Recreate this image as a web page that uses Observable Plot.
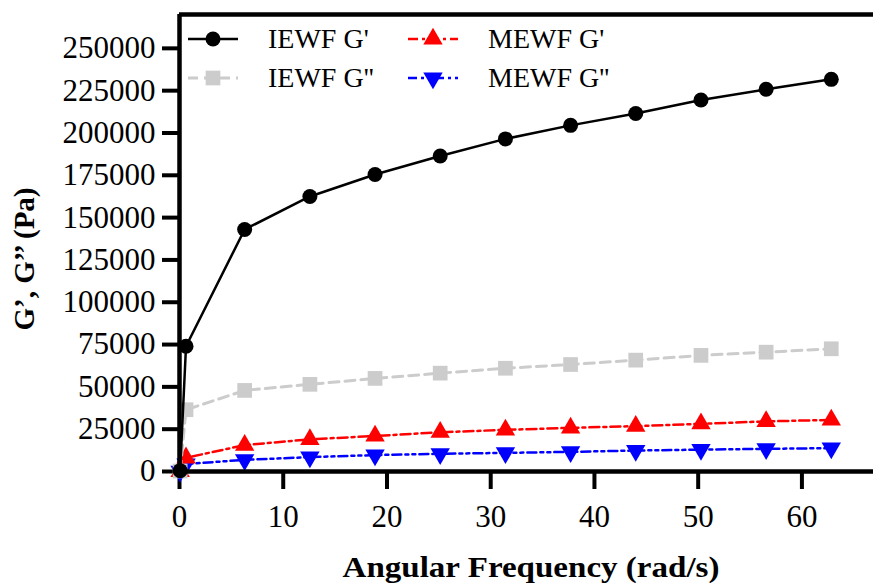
<!DOCTYPE html>
<html>
<head>
<meta charset="utf-8">
<script src="https://cdn.jsdelivr.net/npm/d3@7"></script>
<script src="https://cdn.jsdelivr.net/npm/@observablehq/plot@0.6"></script>
<style>
  html, body { margin: 0; padding: 0; background: #fff; }
  #wrap { position: relative; width: 873px; height: 583px; }
  #legend { position: absolute; left: 0; top: 0; }
  #wrap svg, #wrap svg text { font-family: "Liberation Serif", "Times New Roman", serif !important; }
</style>
</head>
<body>
<div id="wrap"></div>
<script>
const freq   = [0.0628, 0.628, 6.28, 12.57, 18.85, 25.13, 31.42, 37.70, 43.98, 50.27, 56.55, 62.83];
const iewfG1 = [500, 74000, 143000, 162500, 175500, 186400, 196500, 204500, 211500, 219500, 225800, 231700];
const iewfG2 = [300, 36500, 47900, 51500, 55000, 58100, 61000, 63200, 65800, 68600, 70500, 72500];
const mewfG1 = [100, 8100, 15600, 19000, 21000, 23200, 24600, 25800, 26800, 28200, 29600, 30500];
const mewfG2 = [50, 4400, 6900, 8500, 9700, 10500, 11000, 11600, 12400, 12900, 13400, 13800];
const yTicks = [0, 25000, 50000, 75000, 100000, 125000, 150000, 175000, 200000, 225000, 250000];
const xTicks = [0, 10, 20, 30, 40, 50, 60];

const seriesDefs = [
  {name: "IEWF G'",  values: iewfG1, color: "#000000", dash: null,           symbol: "circle",   r: 7.5, rotate: 0,   width: 2.5},
  {name: "IEWF G''", values: iewfG2, color: "#cccccc", dash: "10,6",         symbol: "square",   r: 8.3, rotate: 0,   width: 3},
  {name: "MEWF G'",  values: mewfG1, color: "#ff0000", dash: "10,4,3,4",     symbol: "triangle", r: 7.2, rotate: 0,   width: 2.5},
  {name: "MEWF G''", values: mewfG2, color: "#0000ff", dash: "9,4,3,4,3,4",  symbol: "triangle", r: 7.2, rotate: 180, width: 2.5}
];

const marks = [];
for (const s of [...seriesDefs].reverse()) {
  const data = freq.map((f, i) => ({x: f, y: s.values[i]}));
  marks.push(Plot.line(data, {x: "x", y: "y", stroke: s.color, strokeWidth: s.width, strokeDasharray: s.dash}));
  marks.push(Plot.dot(data, {x: "x", y: "y", symbol: s.symbol, r: s.r, fill: s.color, stroke: "none", rotate: s.rotate}));
}

const chart = Plot.plot({
  width: 873,
  height: 583,
  marginLeft: 179,
  marginRight: 0,
  marginTop: 14,
  marginBottom: 112,
  style: {background: "#fff", color: "#000"},
  x: {domain: [0, 66.9], ticks: xTicks},
  y: {domain: [0, 270000], ticks: yTicks},
  marks: [
    Plot.axisY({ticks: yTicks, tickSize: 17, tickPadding: 7, strokeWidth: 4, fontSize: 31, tickFormat: d => String(d), label: null}),
    Plot.axisX({ticks: xTicks, tickSize: 18, tickPadding: 15, strokeWidth: 4, fontSize: 31, tickFormat: d => String(d), label: null}),
    ...marks,
    Plot.ruleY([0], {stroke: "#000", strokeWidth: 4.5}),
    Plot.ruleY([270000], {stroke: "#000", strokeWidth: 4.5}),
    Plot.ruleX([0], {stroke: "#000", strokeWidth: 4.5})
  ]
});

const wrap = document.getElementById("wrap");
wrap.appendChild(chart);

const svg = d3.select(wrap).append("svg")
  .attr("id", "legend")
  .attr("width", 873).attr("height", 583);

svg.append("text")
  .attr("transform", "translate(531,577) scale(1.14,1)")
  .attr("text-anchor", "middle")
  .attr("font-weight", "bold")
  .attr("font-size", 29)
  .text("Angular Frequency (rad/s)");

svg.append("text")
  .attr("transform", "translate(34,259) rotate(-90)")
  .attr("text-anchor", "middle")
  .attr("font-weight", "bold")
  .attr("font-size", 29)
  .text("G\u2019, G\u2019\u2019 (Pa)");

const legendPos = [
  {x: 188, y: 39},
  {x: 188, y: 78},
  {x: 408, y: 39},
  {x: 408, y: 78}
];
const sym = {circle: d3.symbolCircle, square: d3.symbolSquare, triangle: d3.symbolTriangle};
seriesDefs.forEach((s, i) => {
  const p = legendPos[i];
  const g = svg.append("g").attr("transform", `translate(${p.x},${p.y})`);
  g.append("line").attr("x1", 0).attr("x2", 50).attr("y1", 0).attr("y2", 0)
    .attr("stroke", s.color).attr("stroke-width", s.width)
    .attr("stroke-dasharray", s.dash);
  g.append("path")
    .attr("d", d3.symbol(sym[s.symbol], Math.PI * s.r * s.r)())
    .attr("transform", `translate(25,0) rotate(${s.rotate})`)
    .attr("fill", s.color);
  g.append("text").attr("x", 80).attr("y", 8.5)
    .attr("font-size", 28)
    .text(s.name);
});
</script>
</body>
</html>
